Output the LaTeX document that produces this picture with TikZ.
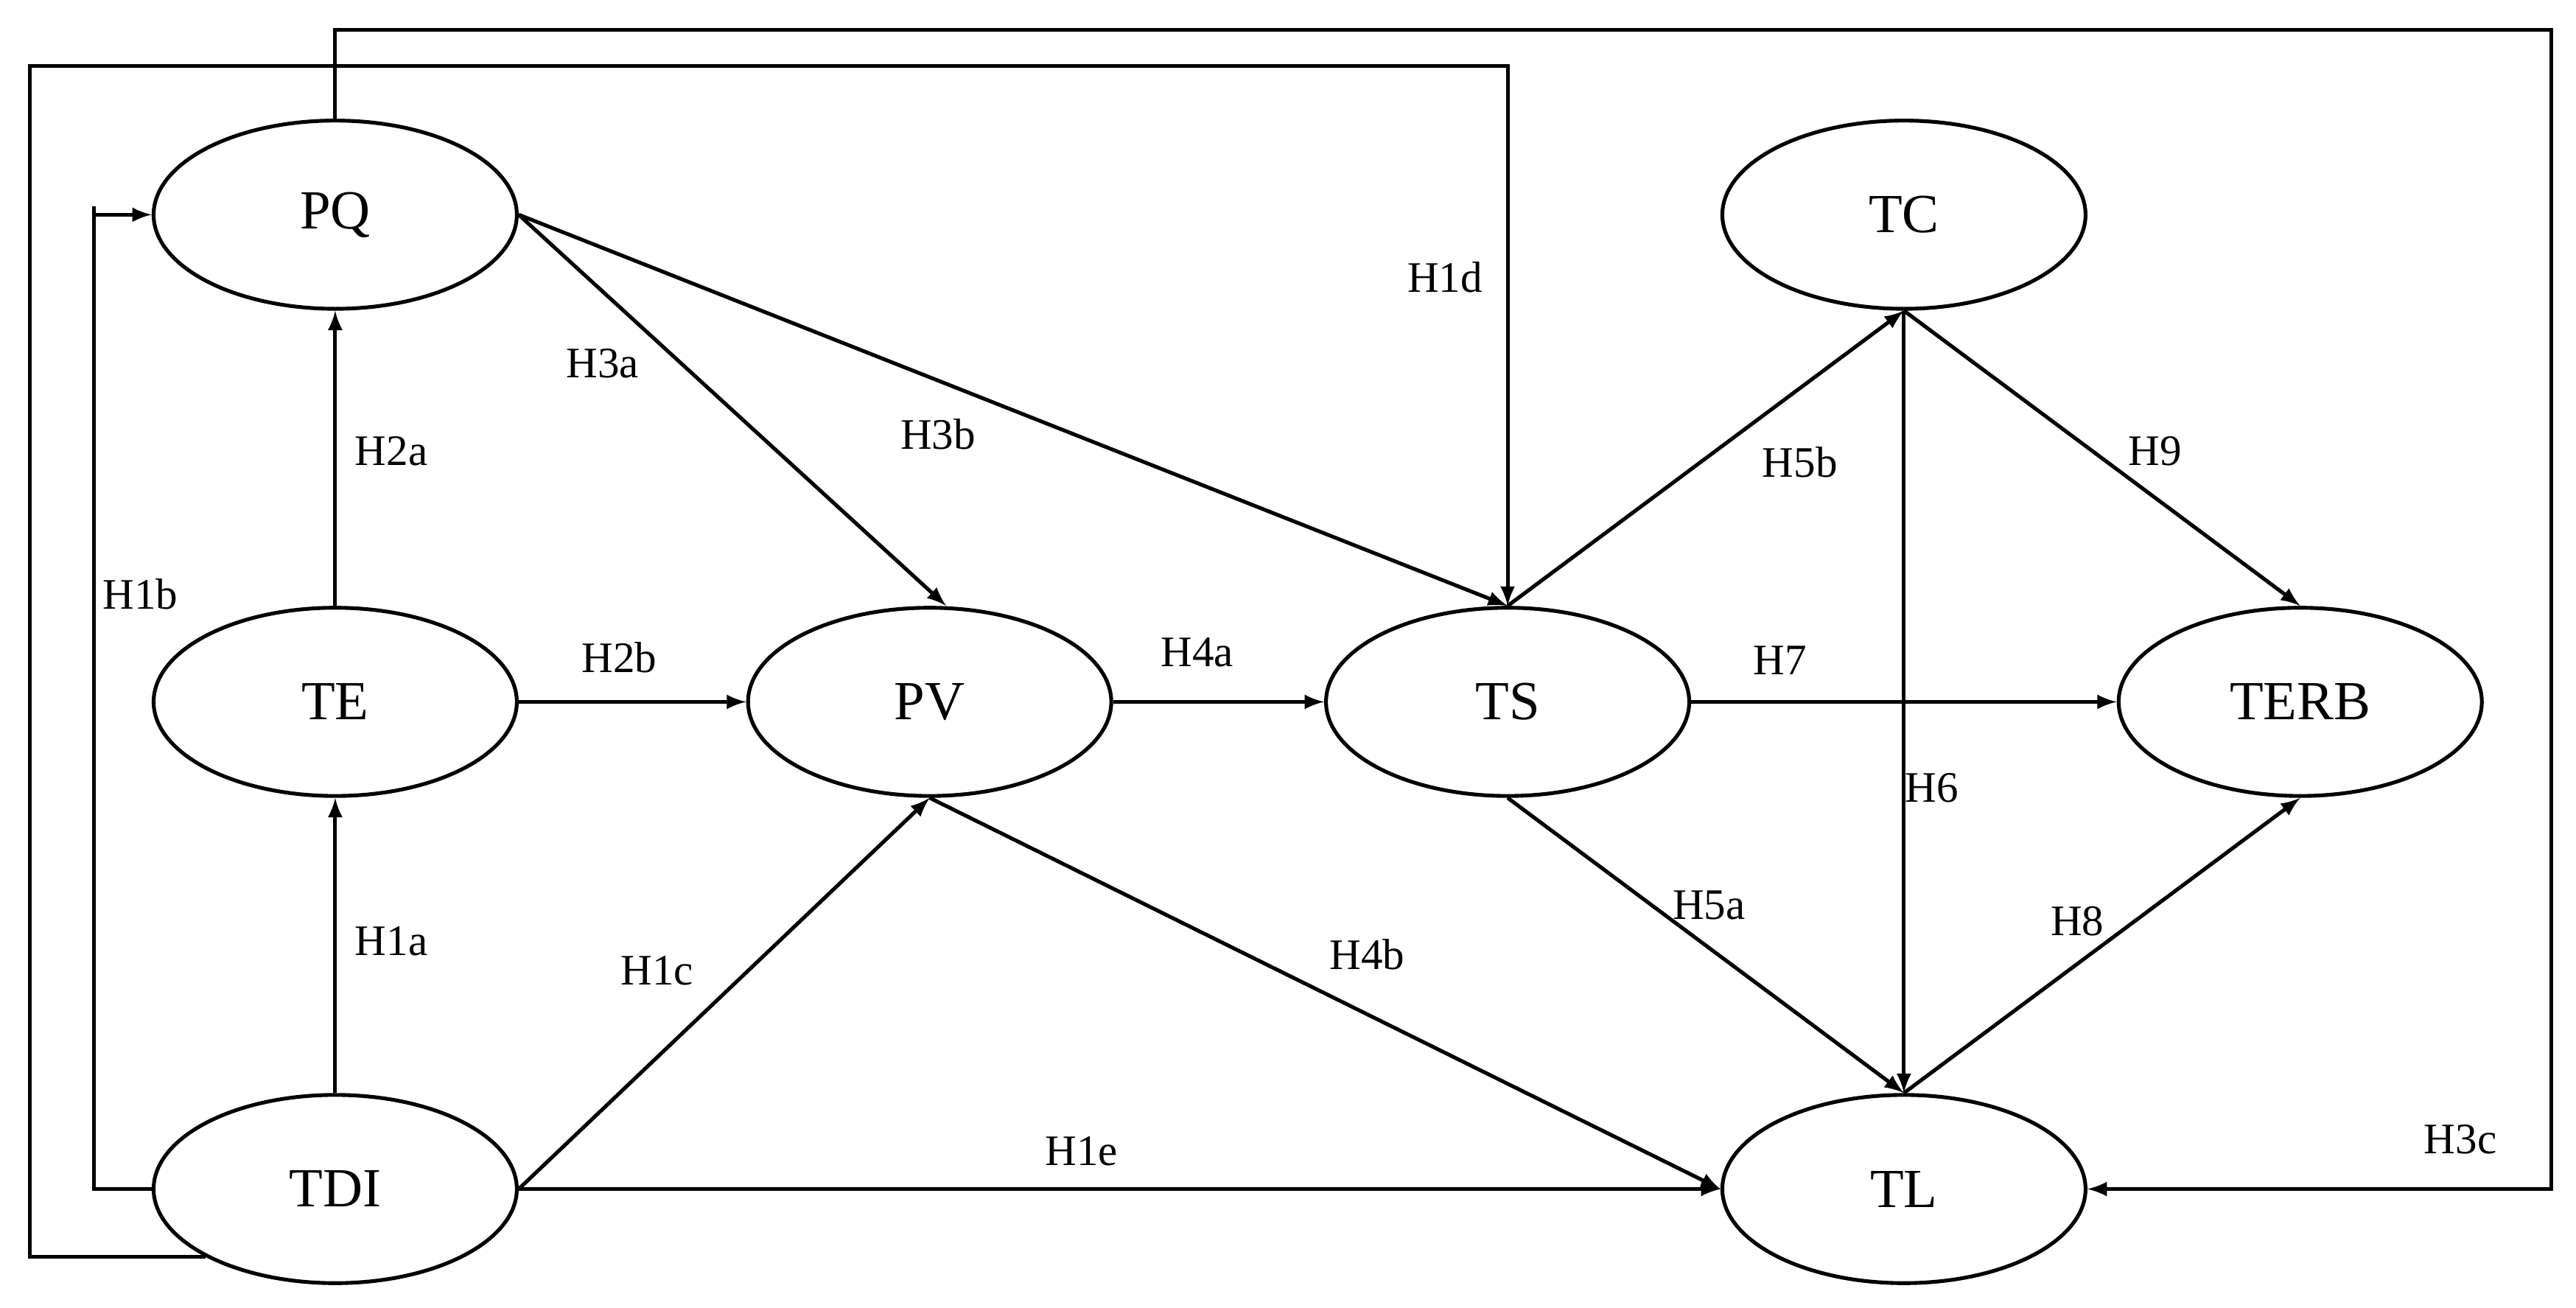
\documentclass[tikz,border=0pt]{standalone}
\usepackage{fontspec}
\setmainfont{Liberation Serif}
\usetikzlibrary{shapes.geometric}
\begin{document}
\begin{tikzpicture}[x={(0.02cm,0)}, y={(0,-0.02cm)},
    construct/.style={draw, ellipse, line width=1.3pt, minimum width=4.4cm, minimum height=2.28cm, font=\fontsize{19}{22}\selectfont},
    hyp/.style={font=\fontsize{15}{18}\selectfont},
    path/.style={line width=1.3pt, -latex}]
    \useasboundingbox (0,0) rectangle (1560,792);
    \node[construct] (PQ) at (203,130) {PQ};
    \node[construct] (TE) at (203,425) {TE};
    \node[construct] (TDI) at (203,720) {TDI};
    \node[construct] (PV) at (563,425) {PV};
    \node[construct] (TS) at (913,425) {TS};
    \node[construct] (TC) at (1153,130) {TC};
    \node[construct] (TERB) at (1393,425) {TERB};
    \node[construct] (TL) at (1153,720) {TL};

    \coordinate (c1) at (18,40);
    \coordinate (c2) at (1545,18);
    \coordinate (c3) at (57,125);

    % outer routes
    \draw [path] (TDI.south west) -| (c1) -| (TS.north);
    \draw [path] (PQ.north) |- (c2) |- (TL.east);
    \draw [path] (TDI.west) -| (c3) |- (PQ.west);

    \draw [path] (TDI) -- (TE);
    \draw [path] (TE) -- (PQ);
    \draw [path] (TE) -- (PV);
    \draw [path] (PQ.east) -- ([xshift=0.2cm]PV.north);
    \draw [path] (PQ.east) -- (TS.north);
    \draw [path] (TDI.east) -- (PV.south);
    \draw [path] (TDI.east) -- (TL.west);
    \draw [path] (PV) -- (TS);
    \draw [path] (PV.south) -- (TL.west);
    \draw [path] (TS.north) -- (TC.south);
    \draw [path] (TS) -- (TERB);
    \draw [path] (TS.south) -- (TL.north);
    \draw [path] (TC.south) -- (TL.north);
    \draw [path] (TC.south) -- (TERB.north);
    \draw [path] (TL.north) -- (TERB.south);

    % labels
    \node[hyp] (h1d) at (875,168) {H1d};
    \node[hyp] (h3a) at (365,220) {H3a};
    \node[hyp] (h3b) at (568,263) {H3b};
    \node[hyp] (h2a) at (237,273) {H2a};
    \node[hyp] (h1b) at (85,360) {H1b};
    \node[hyp] (h2b) at (375,398) {H2b};
    \node[hyp] (h4a) at (725,395) {H4a};
    \node[hyp] (h5b) at (1090,280) {H5b};
    \node[hyp] (h9) at (1305,273) {H9};
    \node[hyp] (h7) at (1078,400) {H7};
    \node[hyp] (h6) at (1170,477) {H6};
    \node[hyp] (h5a) at (1035,548) {H5a};
    \node[hyp] (h8) at (1258,558) {H8};
    \node[hyp] (h1a) at (237,570) {H1a};
    \node[hyp] (h1c) at (398,588) {H1c};
    \node[hyp] (h4b) at (828,578) {H4b};
    \node[hyp] (h1e) at (655,697) {H1e};
    \node[hyp] (h3c) at (1490,690) {H3c};
\end{tikzpicture}
\end{document}
